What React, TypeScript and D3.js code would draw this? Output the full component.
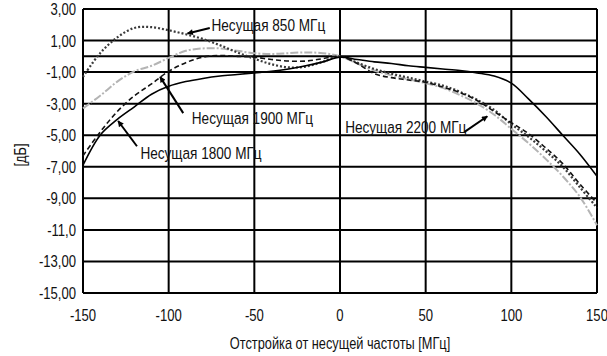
import React, { useRef, useEffect } from "react";
import * as d3 from "d3";

const offsets = [
  -150, -140, -130, -120, -110, -100, -90, -80, -70, -60, -50, -40, -30, -20, -10, 0,
  10, 20, 30, 40, 50, 60, 70, 80, 90, 100, 110, 120, 130, 140, 150,
];

const carrier850 = [
  -1.3, 0.2, 1.2, 1.8, 1.85, 1.65, 1.4, 1.1, 0.7, 0.25, -0.15, -0.5, -0.7, -0.65, -0.35, 0.0,
  -0.4, -0.8, -1.1, -1.35, -1.6, -1.85, -2.25, -2.75, -3.4, -4.3, -5.1, -6.0, -7.0, -8.3, -9.6,
];

const carrier1800 = [
  -6.9, -5.0, -4.0, -3.2, -2.4, -1.9, -1.6, -1.4, -1.25, -1.15, -1.05, -0.95, -0.8, -0.6, -0.35, -0.05,
  -0.2, -0.35, -0.45, -0.6, -0.7, -0.8, -0.9, -1.05, -1.25, -1.7, -2.7, -3.8, -5.0, -6.2, -7.6,
];

const carrier1900 = [
  -6.3, -4.8, -3.5, -2.5, -1.75, -0.95, -0.4, -0.05, 0.05, 0.0, -0.05, -0.2, -0.3, -0.3, -0.15, 0.0,
  -0.45, -1.1, -1.35, -1.5, -1.65, -1.95, -2.3, -2.8, -3.5, -4.2, -4.9, -5.8, -6.8, -8.1, -9.3,
];

const carrier2200 = [
  -3.3, -2.5, -1.6, -0.95, -0.6, -0.1, 0.35, 0.5, 0.5, 0.35, 0.2, 0.15, 0.2, 0.25, 0.2, 0.0,
  -0.45, -0.9, -1.2, -1.45, -1.7, -2.0, -2.45, -3.0, -3.7, -4.6, -5.5, -6.5, -7.6, -8.9, -10.7,
];

const xTicks = [-150, -100, -50, 0, 50, 100, 150];
const yTicks = [3, 1, 0, -1, -3, -5, -7, -9, -11, -13, -15];
const yTickLabels = ["3,00", "1,00", "", "-1,00", "-3,00", "-5,00", "-7,00", "-9,00", "-11,0", "-13,00", "-15,00"];

const seriesNames = ["Несущая 850 МГц", "Несущая 1800 МГц", "Несущая 1900 МГц", "Несущая 2200 МГц"];

// label text anchor (data units) and arrow from/to (data units)
const labelPos = [
  [-75, 2.0],
  [-116.5, -6.1],
  [-86.5, -3.9],
  [3, -4.5],
];
const arrowFrom = [
  [-76, 1.8],
  [-118.5, -5.7],
  [-91.5, -3.6],
  [72.5, -4.8],
];
const arrowTo = [
  [-89, 1.45],
  [-129.5, -4.1],
  [-105, -1.3],
  [86, -3.8],
];

// Liberation Sans squeezed horizontally stands in for a narrow font
const FONT = "'Liberation Sans', Arial, sans-serif";

export default function App() {
  const svgRef = useRef(null);

  useEffect(() => {
    const width = 607;
    const height = 356;
    const margin = { top: 9, right: 10, bottom: 63, left: 83 };

    const svg = d3.select(svgRef.current);
    svg.selectAll("*").remove();
    svg.attr("width", width).attr("height", height);

    const x = d3.scaleLinear().domain([-150, 150]).range([margin.left, width - margin.right]);
    const y = d3.scaleLinear().domain([-15, 3]).range([height - margin.bottom, margin.top]);

    const addText = (px, py, txt, size, anchor, squeeze, rotate = 0) =>
      svg.append("text")
        .attr("transform", `translate(${px},${py}) rotate(${rotate}) scale(${squeeze},1)`)
        .attr("dy", "0.35em")
        .attr("text-anchor", anchor)
        .style("font-family", FONT)
        .style("font-size", `${size}px`)
        .attr("fill", "#111")
        .text(txt);

    svg.append("defs")
      .append("marker")
      .attr("id", "arrowhead")
      .attr("viewBox", "0 0 10 10")
      .attr("refX", 9)
      .attr("refY", 5)
      .attr("markerWidth", 8)
      .attr("markerHeight", 6)
      .attr("markerUnits", "userSpaceOnUse")
      .attr("orient", "auto")
      .append("path")
      .attr("d", "M0,0 L10,5 L0,10 z")
      .attr("fill", "#000");

    // grid
    const grid = svg.append("g");
    grid.selectAll(".hgrid")
      .data(yTicks)
      .enter()
      .append("line")
      .attr("x1", x(-150))
      .attr("x2", x(150))
      .attr("y1", (d) => y(d))
      .attr("y2", (d) => y(d))
      .attr("stroke", "#000")
      .attr("stroke-width", 2);
    grid.selectAll(".vgrid")
      .data(xTicks)
      .enter()
      .append("line")
      .attr("x1", (d) => x(d))
      .attr("x2", (d) => x(d))
      .attr("y1", y(3))
      .attr("y2", y(-15))
      .attr("stroke", "#000")
      .attr("stroke-width", 2);

    // tick labels
    yTicks.forEach((d, i) => addText(margin.left - 7, y(d), yTickLabels[i], 17, "end", 0.77));
    xTicks.forEach((d) => addText(x(d), y(-15) + 22, String(d), 17, "middle", 0.77));

    addText(x(0), 343, "Отстройка от несущей частоты [МГц]", 16, "middle", 0.8);
    addText(20, 155, "[дБ]", 16, "middle", 0.8, -90);

    // curves
    const line = d3
      .line()
      .x((d) => x(d[0]))
      .y((d) => y(d[1]))
      .curve(d3.curveCatmullRom.alpha(0.5));

    const styles = [
      { color: "#3a3a3a", width: 2.2, dash: "2,2" },
      { color: "#000", width: 1.6, dash: null },
      { color: "#111", width: 1.6, dash: "5,3" },
      { color: "#b4b4b4", width: 2, dash: "8,2,2,2" },
    ];
    const values = [carrier850, carrier1800, carrier1900, carrier2200];

    const order = [3, 0, 2, 1];
    order.forEach((i) => {
      const pts = offsets.map((o, k) => [o, values[i][k]]);
      svg.append("path")
        .datum(pts)
        .attr("d", line)
        .attr("fill", "none")
        .attr("stroke", styles[i].color)
        .attr("stroke-width", styles[i].width)
        .attr("stroke-dasharray", styles[i].dash);
    });

    // annotations
    seriesNames.forEach((name, i) => {
      svg.append("line")
        .attr("x1", x(arrowFrom[i][0]))
        .attr("y1", y(arrowFrom[i][1]))
        .attr("x2", x(arrowTo[i][0]))
        .attr("y2", y(arrowTo[i][1]))
        .attr("stroke", "#000")
        .attr("stroke-width", 2)
        .attr("marker-end", "url(#arrowhead)");

      addText(x(labelPos[i][0]), y(labelPos[i][1]), name, 17, "start", 0.8);
    });
  }, []);

  return (
    <div style={{ position: "absolute", left: 0, top: 0, background: "#fff" }}>
      <svg ref={svgRef}></svg>
    </div>
  );
}
